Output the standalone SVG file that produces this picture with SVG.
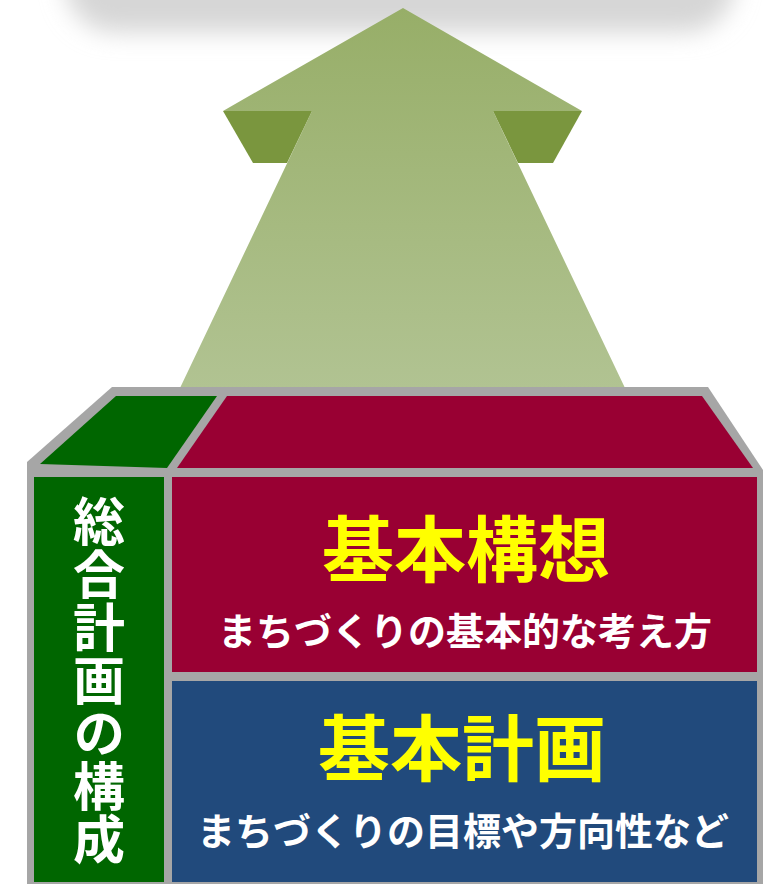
<svg xmlns="http://www.w3.org/2000/svg" width="778" height="884" viewBox="0 0 778 884">
  <defs>
    <linearGradient id="arrowGrad" x1="0" y1="0" x2="0" y2="1">
      <stop offset="0" stop-color="#97ae68"/>
      <stop offset="1" stop-color="#b1c392"/>
    </linearGradient>
    <filter id="blur" x="-20%" y="-100%" width="140%" height="300%">
      <feGaussianBlur stdDeviation="12"/>
    </filter>
    <style>
      .jp { font-family: "Noto Sans CJK JP", "Noto Sans CJK SC", sans-serif; font-weight: 700; }
      .title { font-size: 72px; fill: #ffff00; text-anchor: middle; }
      .sub { font-size: 38px; fill: #ffffff; text-anchor: middle; }
      .side { font-size: 52px; fill: #ffffff; letter-spacing: 1px; }
      .wing { fill: #7a963e; }
    </style>
  </defs>
  <rect width="778" height="884" fill="#ffffff"/>
  <g id="shadow">
    <rect x="65" y="-80" width="670" height="112" rx="50" fill="#d6d6d6" filter="url(#blur)"/>
  </g>
  <g id="arrow">
    <polygon points="403,8 582,111 493,111 625,388 180,388 312,111 223,111" fill="url(#arrowGrad)"/>
    <polygon class="wing" points="223,111 312,111 287,163 253,163"/>
    <polygon class="wing" points="493,111 582,111 553,163 518,163"/>
  </g>
  <g id="box-frame">
    <polygon points="27,462 112,387 708,387 763,470 763,884 27,884" fill="#a6a6a6"/>
  </g>
  <g id="side-column">
    <polygon points="116,396 217,396 167,468 40,464" fill="#006600"/>
    <rect x="34" y="477" width="130" height="405" fill="#006600"/>
    <text class="jp side" x="99" y="495" writing-mode="vertical-rl">総合計画の構成</text>
  </g>
  <g id="kihon-kousou">
    <polygon points="227,396 702,396 753,468 177,468" fill="#990033"/>
    <rect x="172" y="477" width="585" height="195" fill="#990033"/>
    <text class="jp title" x="466" y="576">基本構想</text>
    <text class="jp sub" x="465" y="645">まちづくりの基本的な考え方</text>
  </g>
  <g id="kihon-keikaku">
    <rect x="172" y="681" width="585" height="201" fill="#214a7c"/>
    <text class="jp title" x="462" y="775">基本計画</text>
    <text class="jp sub" x="463" y="845">まちづくりの目標や方向性など</text>
  </g>
  <g id="connectors"/>
</svg>
